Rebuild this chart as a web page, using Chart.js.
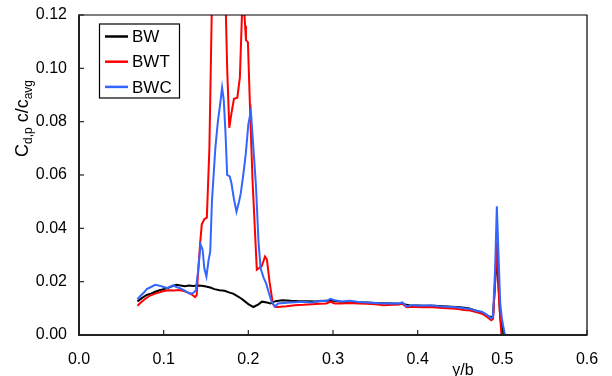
<!DOCTYPE html>
<html><head><meta charset="utf-8">
<script src="https://cdn.jsdelivr.net/npm/chart.js@4/dist/chart.umd.min.js"></script>
<style>html,body{margin:0;padding:0;background:#fff}#wrap{width:612px;height:376px;position:relative}</style>
</head><body><div id="wrap"><canvas id="c" width="612" height="376"></canvas></div>
<script>
const seriesNames = ["BW", "BWT", "BWC"];
const seriesColors = ["#000000", "#ff0000", "#3366ff"];
const xTicks = [0.0, 0.1, 0.2, 0.3, 0.4, 0.5, 0.6];
const yTicks = [0.00, 0.02, 0.04, 0.06, 0.08, 0.10, 0.12];

const bwX = [0.069,0.075,0.080,0.085,0.090,0.095,0.100,0.105,0.110,0.115,0.120,0.125,0.130,0.135,0.140,0.145,0.150,0.155,0.160,0.166,0.172,0.177,0.182,0.187,0.192,0.196,0.200,0.206,0.212,0.216,0.222,0.226,0.232,0.240,0.250,0.260,0.270,0.280,0.290,0.300,0.310,0.320,0.330,0.340,0.350,0.360,0.370,0.380,0.390,0.400,0.410,0.420,0.430,0.440,0.450,0.460,0.470,0.478,0.485,0.489,0.4915,0.4935,0.4955,0.4975,0.500,0.503,0.528];
const bwY = [0.0126,0.0140,0.0150,0.0155,0.0162,0.0168,0.0172,0.0176,0.0183,0.0188,0.0186,0.0183,0.0186,0.0184,0.0186,0.0185,0.0182,0.0178,0.0172,0.0168,0.0166,0.0160,0.0155,0.0146,0.0136,0.0126,0.0116,0.0105,0.0115,0.0125,0.0122,0.0118,0.0127,0.0130,0.0128,0.0127,0.0127,0.0126,0.0128,0.0128,0.0125,0.0124,0.0122,0.0122,0.0120,0.0119,0.0118,0.0117,0.0112,0.0111,0.0110,0.0110,0.0108,0.0106,0.0104,0.0100,0.0090,0.0082,0.0068,0.0068,0.0200,0.0300,0.0180,0.0070,0.0020,0.0000,0.0000];

const bwtX = [0.069,0.073,0.078,0.084,0.090,0.095,0.100,0.106,0.112,0.118,0.124,0.130,0.134,0.137,0.139,0.141,0.143,0.145,0.148,0.151,0.154,0.157,0.162,0.168,0.172,0.175,0.1775,0.180,0.183,0.187,0.190,0.1935,0.1962,0.1972,0.1995,0.202,0.205,0.210,0.2157,0.2197,0.222,0.225,0.229,0.2315,0.235,0.245,0.255,0.265,0.275,0.285,0.292,0.297,0.302,0.310,0.320,0.330,0.340,0.350,0.360,0.370,0.378,0.382,0.387,0.395,0.405,0.415,0.425,0.435,0.445,0.455,0.462,0.470,0.476,0.482,0.487,0.489,0.4915,0.4935,0.4955,0.4975,0.499,0.528];
const bwtY = [0.0110,0.0122,0.0135,0.0148,0.0155,0.0160,0.0165,0.0168,0.0167,0.0169,0.0165,0.0158,0.0150,0.0142,0.0150,0.0250,0.0340,0.0415,0.0434,0.0440,0.0700,0.1250,0.1700,0.1700,0.1400,0.1000,0.0777,0.0830,0.0886,0.0890,0.0966,0.1300,0.1160,0.1106,0.1098,0.0850,0.0577,0.0245,0.0257,0.0294,0.0283,0.0200,0.0117,0.0106,0.0105,0.0108,0.0112,0.0113,0.0115,0.0117,0.0118,0.0124,0.0118,0.0118,0.0120,0.0118,0.0117,0.0115,0.0112,0.0113,0.0114,0.0118,0.0104,0.0106,0.0104,0.0105,0.0102,0.0100,0.0098,0.0094,0.0092,0.0085,0.0080,0.0068,0.0055,0.0060,0.0200,0.0350,0.0180,0.0060,0.0000,0.0000];

const bwcX = [0.069,0.073,0.077,0.080,0.085,0.090,0.095,0.100,0.104,0.108,0.111,0.115,0.119,0.124,0.128,0.131,0.135,0.138,0.141,0.1435,0.146,0.148,0.1505,0.153,0.155,0.157,0.161,0.164,0.1665,0.169,0.171,0.173,0.175,0.178,0.180,0.183,0.186,0.189,0.191,0.194,0.197,0.200,0.203,0.206,0.209,0.212,0.2145,0.218,0.221,0.224,0.2275,0.2315,0.235,0.245,0.255,0.265,0.275,0.285,0.292,0.297,0.302,0.310,0.320,0.330,0.340,0.350,0.360,0.370,0.378,0.382,0.387,0.395,0.405,0.415,0.425,0.435,0.445,0.455,0.462,0.470,0.476,0.482,0.487,0.489,0.4915,0.4935,0.4955,0.4975,0.4995,0.503,0.528];
const bwcY = [0.0134,0.0148,0.0160,0.0172,0.0180,0.0188,0.0185,0.0180,0.0176,0.0182,0.0186,0.0180,0.0176,0.0168,0.0160,0.0155,0.0158,0.0168,0.0250,0.0340,0.0320,0.0250,0.0219,0.0280,0.0313,0.0500,0.0700,0.0800,0.0860,0.0928,0.0880,0.0760,0.0600,0.0595,0.0570,0.0510,0.0462,0.0500,0.0530,0.0600,0.0680,0.0790,0.0840,0.0700,0.0560,0.0350,0.0250,0.0215,0.0194,0.0160,0.0125,0.0106,0.0118,0.0121,0.0123,0.0125,0.0122,0.0128,0.0127,0.0136,0.0130,0.0126,0.0128,0.0124,0.0122,0.0120,0.0118,0.0119,0.0118,0.0122,0.0108,0.0112,0.0110,0.0112,0.0108,0.0106,0.0104,0.0100,0.0098,0.0090,0.0087,0.0075,0.0062,0.0070,0.0250,0.0483,0.0300,0.0120,0.0060,0.0000,0.0000];

const xs = [bwX, bwtX, bwcX];
const ys = [bwY, bwtY, bwcY];
const FONT = "'Liberation Sans', Arial, sans-serif";

const datasets = seriesNames.map((n, i) => ({
  label: n,
  data: xs[i].map((x, j) => ({x: x, y: ys[i][j]})),
  borderColor: seriesColors[i],
  backgroundColor: seriesColors[i],
  borderWidth: 2,
  pointRadius: 0,
  tension: 0,
  fill: false,
  order: 3 - i
}));

const framePlugin = {
  id: 'frame',
  afterDatasetsDraw(chart) {
    const {ctx, chartArea: a} = chart;
    ctx.save();
    ctx.strokeStyle = '#000';
    ctx.lineWidth = 1.2;
    ctx.beginPath();
    ctx.moveTo(a.left, a.top); ctx.lineTo(a.right, a.top); ctx.lineTo(a.right, a.bottom);
    ctx.stroke();
    ctx.lineWidth = 2;
    ctx.strokeStyle = '#222';
    ctx.beginPath();
    ctx.moveTo(a.left, a.top - 0.5); ctx.lineTo(a.left, a.bottom); ctx.lineTo(a.right + 0.5, a.bottom);
    ctx.stroke();
    const xs_ = chart.scales.x, ys_ = chart.scales.y;
    ctx.lineWidth = 1.2;
    xTicks.forEach(v => { const p = xs_.getPixelForValue(v); ctx.beginPath(); ctx.moveTo(p, a.bottom); ctx.lineTo(p, a.bottom - 5); ctx.stroke(); });
    yTicks.forEach(v => { const p = ys_.getPixelForValue(v); ctx.beginPath(); ctx.moveTo(a.left, p); ctx.lineTo(a.left + 5, p); ctx.stroke(); });
    const L = 99.5, T = 24, W = 80, H = 74;
    ctx.fillStyle = '#fff';
    ctx.fillRect(L, T, W, H);
    ctx.strokeStyle = '#000';
    ctx.lineWidth = 1.2;
    ctx.strokeRect(L, T, W, H);
    ctx.font = '17px ' + FONT;
    ctx.textBaseline = 'middle';
    ctx.textAlign = 'left';
    chart.data.datasets.forEach((d, i) => {
      const y = 36.5 + i * 25.2;
      ctx.strokeStyle = d.borderColor;
      ctx.lineWidth = 2.5;
      ctx.beginPath(); ctx.moveTo(105, y); ctx.lineTo(128, y); ctx.stroke();
      ctx.fillStyle = '#000';
      ctx.fillText(d.label, 132, y + 1);
    });
    ctx.translate(28, 157);
    ctx.rotate(-Math.PI / 2);
    ctx.textBaseline = 'alphabetic';
    ctx.fillStyle = '#000';
    let x = 0;
    const parts = [["C", 18, 0], ["d,p", 12, 4], [" c/c", 18, 0], ["avg", 12, 4]];
    parts.forEach(p => { ctx.font = p[1] + 'px ' + FONT; ctx.fillText(p[0], x, p[2]); x += ctx.measureText(p[0]).width; });
    ctx.restore();
    ctx.save();
    ctx.font = '16px ' + FONT;
    ctx.fillStyle = '#000';
    ctx.textAlign = 'center';
    ctx.textBaseline = 'alphabetic';
    ctx.fillText('y/b', 463, 375);
    ctx.restore();
  }
};

new Chart(document.getElementById('c'), {
  type: 'line',
  data: { datasets: datasets },
  options: {
    responsive: false,
    animation: false,
    layout: { padding: { left: 0, right: 25, top: 15, bottom: 0 } },
    plugins: { legend: { display: false }, tooltip: { enabled: false } },
    scales: {
      x: {
        type: 'linear', min: 0, max: 0.6,
        afterBuildTicks: s => { s.ticks = xTicks.map(v => ({value: v})); },
        afterFit: s => { s.height = 41; s.paddingLeft = 0; s.paddingRight = 0; },
        grid: { display: false, drawTicks: false },
        border: { display: false },
        ticks: { color: '#000', font: { size: 16, family: FONT }, padding: 15, maxRotation: 0, callback: v => v.toFixed(1) }
      },
      y: {
        type: 'linear', min: 0, max: 0.12,
        afterBuildTicks: s => { s.ticks = yTicks.map(v => ({value: v})); },
        afterFit: s => { s.width = 79; s.paddingTop = 0; s.paddingBottom = 0; },
        grid: { display: false, drawTicks: false },
        border: { display: false },
        ticks: { color: '#000', font: { size: 16, family: FONT }, padding: 12, callback: v => v.toFixed(2) }
      }
    }
  },
  plugins: [framePlugin]
});
</script></body></html>
